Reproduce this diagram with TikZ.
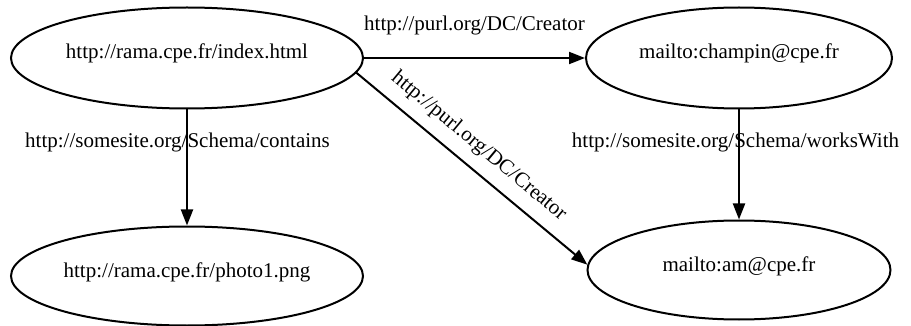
\documentclass[tikz,border=0pt]{standalone}
\usepackage{fontspec}
\setmainfont{Liberation Serif}
\usetikzlibrary{arrows.meta,shapes.geometric}
\begin{document}
\begin{tikzpicture}[x=1pt,y=-1pt,
  every node/.style={font=\fontsize{21}{25}\selectfont},
  ell/.style={draw, ellipse, line width=2pt, inner sep=0pt, text height=13pt, text depth=11pt},
  lbl/.style={inner sep=0pt, anchor=base},
  arr/.style={line width=2pt, -{Triangle[length=16pt,width=12pt]}}]
\useasboundingbox (0,0) rectangle (911,326);
\node[ell, minimum width=352pt, minimum height=101pt] (idx) at (187,58) {http://rama.cpe.fr/index.html};
\node[ell, minimum width=306pt, minimum height=101pt] (champ) at (739,58) {mailto:champin@cpe.fr};
\node[ell, minimum width=352pt, minimum height=99pt] (photo) at (187,276) {http://rama.cpe.fr/photo1.png};
\node[ell, minimum width=303pt, minimum height=99pt] (am) at (739,270) {mailto:am@cpe.fr};
\draw[arr] (idx) -- node[midway, above=22pt, inner sep=0pt] (l1) {http://purl.org/DC/Creator} (champ);
\draw[arr] (idx) -- (photo);
\node[lbl] (l2) at (177.5,147.5) {http://somesite.org/Schema/contains};
\draw[arr] (champ) -- (am);
\node[lbl] (l3) at (735.5,147.5) {http://somesite.org/Schema/worksWith};
\draw[arr] (idx.-5) -- node[pos=0.47, sloped, above=11pt, inner sep=0pt] (l4) {http://purl.org/DC/Creator} (am.178);
\end{tikzpicture}
\end{document}
